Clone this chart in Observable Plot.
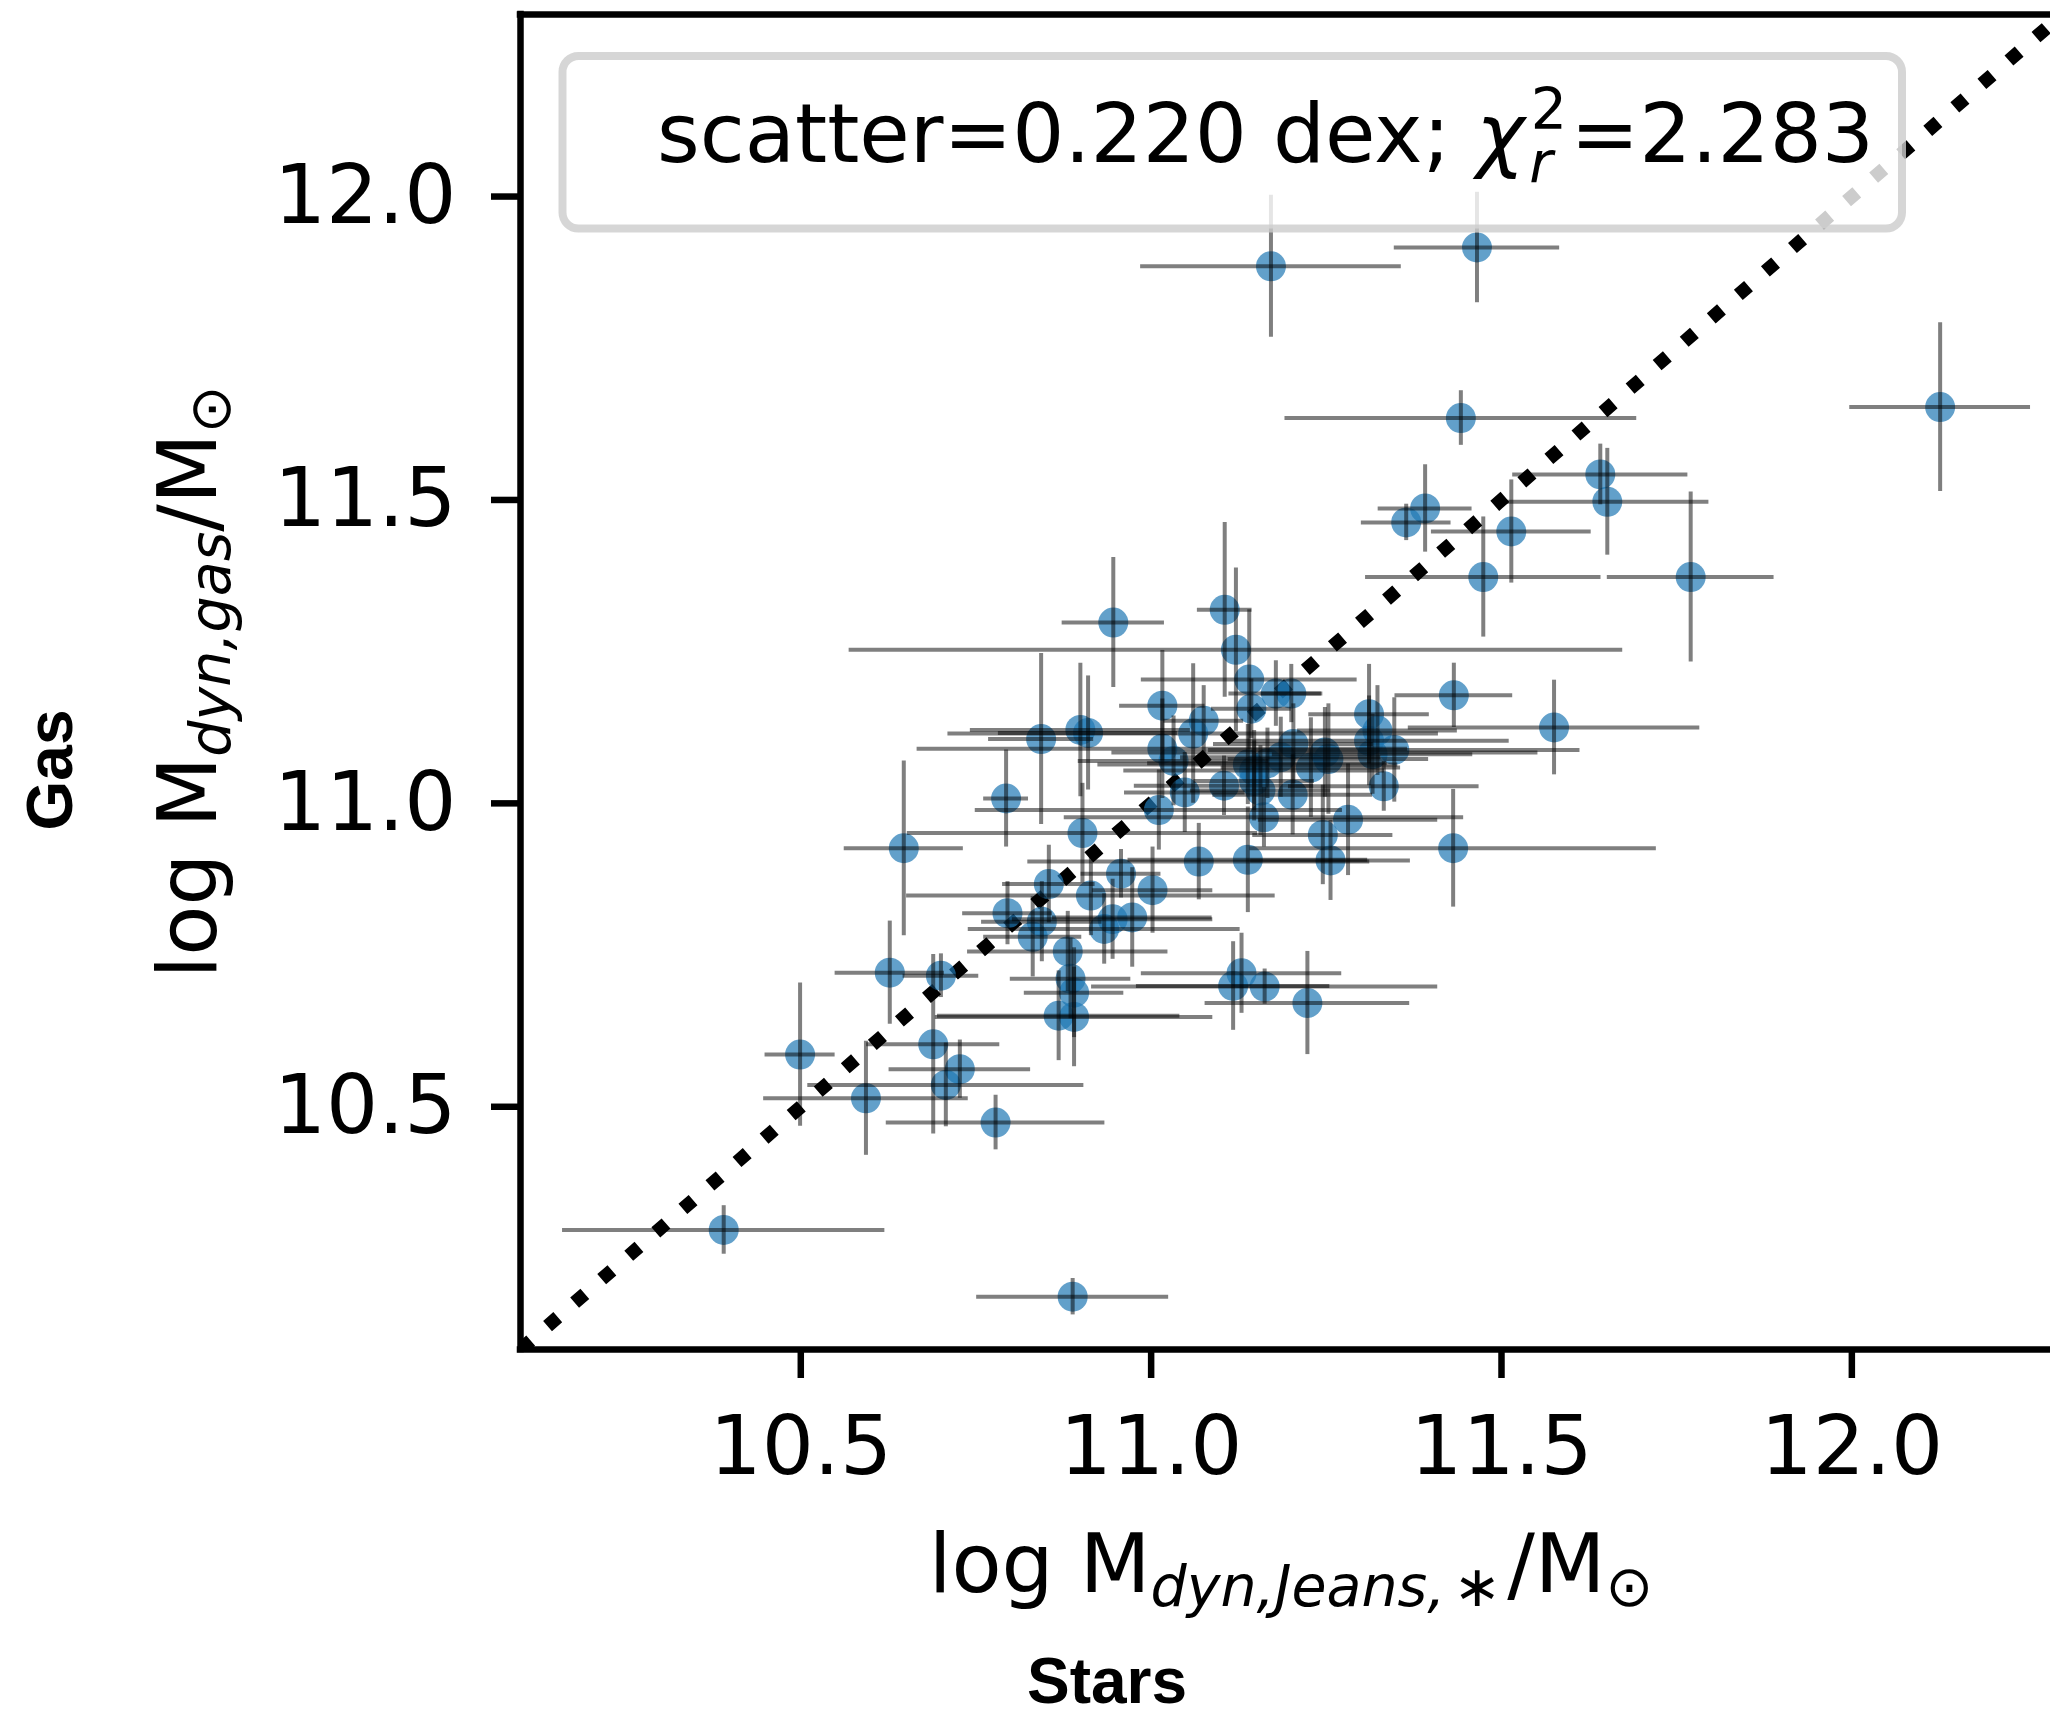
<!DOCTYPE html>
<html><head><meta charset="utf-8">
<script src="https://cdn.jsdelivr.net/npm/d3@7"></script>
<script src="https://cdn.jsdelivr.net/npm/@observablehq/plot@0.6"></script>
<style>html,body{margin:0;padding:0;background:#fff;overflow:hidden}</style>
</head><body><div id="chart"></div>
<script>
// log M_dyn,Jeans,* (stars)
const logMstar = [11.171,11.465,11.442,11.391,11.364,11.514,11.474,12.126,11.641,11.651,11.770,10.946,11.105,11.121,11.140,11.178,11.200,11.143,11.016,11.075,11.060,10.899,10.910,10.843,11.016,11.032,11.203,11.138,11.147,11.166,11.185,11.248,11.253,11.228,11.311,11.323,11.311,11.316,11.347,11.432,11.575,11.332,11.104,11.048,11.147,11.156,11.202,11.011,11.161,11.281,11.245,10.902,11.431,11.068,11.138,11.256,10.957,10.854,10.914,11.002,10.945,10.973,10.933,10.795,10.844,10.831,10.881,10.793,10.647,10.627,10.700,10.499,10.689,10.727,10.707,10.593,10.778,10.390,10.888,10.885,10.890,10.890,10.868,11.129,11.117,11.162,11.223];
// log M_dyn,gas (gas)
const logMgas = [11.885,11.916,11.635,11.486,11.463,11.448,11.373,11.653,11.542,11.497,11.373,11.298,11.319,11.253,11.204,11.181,11.181,11.156,11.161,11.136,11.115,11.121,11.116,11.106,11.090,11.070,11.098,11.064,11.054,11.066,11.076,11.084,11.073,11.059,11.147,11.120,11.103,11.081,11.088,11.178,11.125,11.028,11.029,11.018,11.037,11.021,11.014,10.989,10.977,10.973,10.948,10.951,10.926,10.904,10.907,10.906,10.884,10.867,10.848,10.857,10.809,10.812,10.793,10.819,10.805,10.780,10.756,11.008,10.926,10.721,10.716,10.586,10.603,10.562,10.536,10.514,10.474,10.297,10.187,10.711,10.688,10.648,10.650,10.720,10.699,10.698,10.671];
// symmetric errors
const errMstar = [0.186,0.118,0.251,0.067,0.064,0.114,0.168,0.129,0.125,0.145,0.119,0.073,0.039,0.552,0.154,0.067,0.043,0.057,0.061,0.057,0.35,0.157,0.128,0.075,0.35,0.136,0.114,0.214,0.186,0.171,0.143,0.304,0.143,0.128,0.086,0.114,0.2,0.143,0.265,0.084,0.208,0.136,0.128,0.086,0.086,0.100,0.114,0.262,0.285,0.128,0.100,0.25,0.290,0.244,0.171,0.114,0.057,0.066,0.263,0.086,0.143,0.114,0.194,0.064,0.086,0.070,0.143,0.032,0.085,0.078,0.054,0.050,0.095,0.101,0.197,0.146,0.156,0.230,0.137,0.086,0.071,0.198,0.173,0.143,0.138,0.247,0.146];
const errMgas = [0.117,0.091,0.045,0.072,0.030,0.085,0.099,0.139,0.050,0.088,0.140,0.107,0.144,0.135,0.115,0.054,0.048,0.049,0.091,0.058,0.115,0.110,0.094,0.141,0.082,0.074,0.066,0.066,0.066,0.058,0.066,0.074,0.091,0.082,0.082,0.074,0.074,0.066,0.086,0.053,0.078,0.041,0.049,0.066,0.066,0.074,0.066,0.066,0.049,0.092,0.082,0.082,0.097,0.063,0.087,0.066,0.040,0.064,0.066,0.071,0.066,0.082,0.058,0.052,0.066,0.066,0.066,0.080,0.144,0.085,0.036,0.118,0.148,0.048,0.069,0.094,0.045,0.040,0.030,0.066,0.074,0.082,0.074,0.066,0.073,0.029,0.085];

const xTicks = [10.5, 11.0, 11.5, 12.0];
const yTicks = [10.5, 11.0, 11.5, 12.0];
const xDomain = [10.1, 12.2835];
const yDomain = [10.1, 12.3];
const oneToOne = [10.1, 12.3];

const data = logMstar.map((x, i) => ({x, y: logMgas[i], xe: errMstar[i], ye: errMgas[i]}));

const W = 2050, H = 1713;
const FS = 82;
const svg = Plot.plot({
  width: W, height: H,
  marginLeft: 520, marginRight: 0, marginTop: 14, marginBottom: 364,
  style: {fontFamily: "DejaVu Sans", fontSize: FS + "px", background: "white", color: "black", overflow: "visible"},
  x: {domain: xDomain, label: null},
  y: {domain: yDomain, label: null},
  marks: [
    Plot.line(oneToOne.map(v => [v, v]), {stroke: "black", strokeWidth: 13.5, strokeDasharray: "13.5 22.3", strokeLinecap: "butt", clip: true}),
    Plot.dot(data, {x: "x", y: "y", r: 15, fill: "#1f77b4", fillOpacity: 0.7, clip: true}),
    Plot.ruleY(data, {y: "y", x1: d => d.x - d.xe, x2: d => d.x + d.xe, stroke: "black", strokeOpacity: 0.5, strokeWidth: 4, clip: true}),
    Plot.ruleX(data, {x: "x", y1: d => d.y - d.ye, y2: d => d.y + d.ye, stroke: "black", strokeOpacity: 0.5, strokeWidth: 4, clip: true}),
    Plot.axisX({ticks: xTicks, tickFormat: ".1f", tickSize: 29, tickPadding: 37, strokeWidth: 6.5, fontSize: FS, label: null}),
    Plot.axisY({ticks: yTicks, tickFormat: ".1f", tickSize: 29, tickPadding: 35, strokeWidth: 6.5, fontSize: FS, label: null}),
    Plot.ruleX([xDomain[0]], {stroke: "black", strokeWidth: 6.5, strokeLinecap: "square"}),
    Plot.ruleY([yDomain[0]], {stroke: "black", strokeWidth: 6.5, strokeLinecap: "square"}),
    Plot.ruleY([yDomain[1]], {stroke: "black", strokeWidth: 6.5, strokeLinecap: "square"})
  ]
});
document.getElementById("chart").appendChild(svg);

const s = d3.select(svg);
const SUB = Math.round(FS * 0.7);

// legend box
const lg = s.append("g");
lg.append("rect").attr("x", 562.5).attr("y", 56).attr("width", 1339.5).attr("height", 172.5)
  .attr("rx", 16).attr("fill", "white").attr("fill-opacity", 0.8)
  .attr("stroke", "#cccccc").attr("stroke-opacity", 0.8).attr("stroke-width", 8);
const lt = lg.append("text").attr("x", 657).attr("y", 162).attr("text-anchor", "start")
  .attr("font-family", "DejaVu Sans").attr("font-size", FS).attr("fill", "black");
lt.append("tspan").text("scatter=0.220 dex; ");
lt.append("tspan").attr("font-style", "italic").text("χ");
lt.append("tspan").attr("font-size", SUB).attr("dy", -33).attr("dx", 6).text("2");
lt.append("tspan").attr("font-size", SUB).attr("font-style", "italic").attr("dx", -38).attr("dy", 53).text("r");
lt.append("tspan").attr("dy", -20).attr("dx", 18).text("=2.283");

// x axis label
const xl = s.append("text").attr("x", 1291).attr("y", 1592).attr("text-anchor", "middle")
  .attr("font-family", "DejaVu Sans").attr("font-size", FS).attr("fill", "black");
xl.append("tspan").text("log M");
xl.append("tspan").attr("font-size", SUB).attr("font-style", "italic").attr("dy", 14).text("dyn,Jeans,");
xl.append("tspan").attr("font-size", SUB).attr("dx", 8).text("∗");
xl.append("tspan").attr("dy", -14).attr("dx", 6).text("/M");
xl.append("tspan").attr("font-size", SUB).attr("dy", 14).text("⊙");

// y axis label
const yl = s.append("text").attr("transform", "translate(216,682) rotate(-90)").attr("text-anchor", "middle")
  .attr("font-family", "DejaVu Sans").attr("font-size", FS).attr("fill", "black");
yl.append("tspan").text("log M");
yl.append("tspan").attr("font-size", SUB).attr("font-style", "italic").attr("dy", 14).text("dyn,gas");
yl.append("tspan").attr("dy", -14).text("/M");
yl.append("tspan").attr("font-size", SUB).attr("dy", 14).text("⊙");

// panel labels
s.append("text").attr("transform", "translate(72,770) rotate(-90)").attr("text-anchor", "middle")
  .attr("font-family", "Liberation Sans").attr("font-weight", "bold").attr("font-size", 64).attr("fill", "black").text("Gas");
s.append("text").attr("x", 1107).attr("y", 1703).attr("text-anchor", "middle")
  .attr("font-family", "Liberation Sans").attr("font-weight", "bold").attr("font-size", 64).attr("fill", "black").text("Stars");
</script>
</body></html>
